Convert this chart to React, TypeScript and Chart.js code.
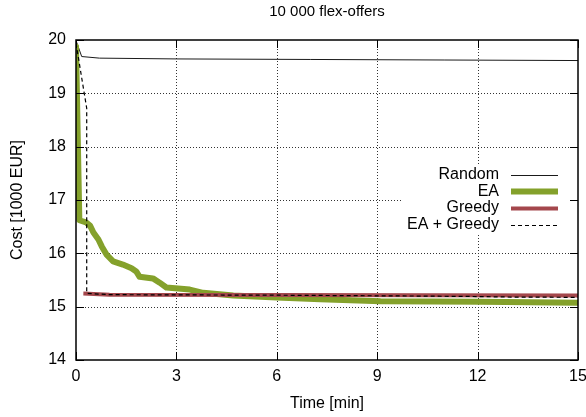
import React, { useEffect, useRef } from 'react';
import { Chart, registerables } from 'chart.js';

Chart.register(...registerables);

const FONT = "'Liberation Sans', Arial, Helvetica, sans-serif";

const chartTitle = '10 000 flex-offers';
const xAxisTitle = 'Time [min]';
const yAxisTitle = 'Cost [1000 EUR]';
const xTicks = [0, 3, 6, 9, 12, 15];
const yTicks = [14, 15, 16, 17, 18, 19, 20];

const seriesNames = ['Random', 'EA', 'Greedy', 'EA + Greedy'];
const seriesColors = ['#1a1a1a', '#84a12b', '#a4474c', '#000000'];

const randomTime = [0, 0.17, 0.7, 3, 7, 11, 15];
const randomCost = [19.99, 19.69, 19.66, 19.645, 19.635, 19.625, 19.615];

const eaTime = [0, 0.1, 0.3, 0.42, 0.52, 0.67, 0.77, 0.92, 1.11, 1.4, 1.66, 1.8, 1.9, 2.3, 2.5, 2.7, 3.4, 3.8, 4.7, 6.0, 7.3, 9.1, 12.1, 15];
const eaCost = [19.88, 16.62, 16.58, 16.52, 16.39, 16.26, 16.13, 15.97, 15.85, 15.79, 15.72, 15.66, 15.56, 15.53, 15.45, 15.36, 15.32, 15.26, 15.21, 15.17, 15.14, 15.1, 15.09, 15.075];

const greedyTime = [0.22, 1, 6, 15];
const greedyCost = [15.245, 15.225, 15.22, 15.21];

const eaGreedyTime = [0, 0.32, 0.32, 1, 6, 10, 12, 13, 15];
const eaGreedyCost = [19.94, 18.72, 15.25, 15.225, 15.215, 15.2, 15.19, 15.18, 15.175];

const zip = (xs: number[], ys: number[]) => xs.map((x, i) => ({ x, y: ys[i] }));

const decorPlugin = {
  id: 'decor',
  beforeDatasetsDraw(chart: any) {
    const { ctx, chartArea: a, scales } = chart;
    const xs = scales.x;
    const ys = scales.y;
    ctx.save();
    ctx.strokeStyle = '#333';
    ctx.lineWidth = 1;
    ctx.setLineDash([1, 2]);
    xTicks.forEach((v) => {
      const px = Math.round(xs.getPixelForValue(v)) + 0.5;
      if (px <= a.left + 2 || px >= a.right - 2) return;
      ctx.beginPath();
      ctx.moveTo(px, a.top);
      ctx.lineTo(px, a.bottom);
      ctx.stroke();
    });
    yTicks.forEach((v) => {
      const py = Math.round(ys.getPixelForValue(v)) + 0.5;
      if (py <= a.top + 2 || py >= a.bottom - 2) return;
      ctx.beginPath();
      ctx.moveTo(a.left, py);
      ctx.lineTo(a.right, py);
      ctx.stroke();
    });
    ctx.restore();
  },
  afterDatasetsDraw(chart: any) {
    const { ctx, chartArea: a, scales } = chart;
    const xs = scales.x;
    const ys = scales.y;
    ctx.save();
    // legend
    const textRight = a.right - 79;
    const y0 = a.top + 134.5;
    const dy = 16.7;
    const dsets = chart.data.datasets;
    ctx.fillStyle = '#fff';
    ctx.fillRect(textRight - 96, y0 - 10, a.right - (textRight - 96) - 2, dy * (dsets.length - 1) + 20);
    ctx.font = `16px ${FONT}`;
    ctx.textAlign = 'right';
    ctx.textBaseline = 'middle';
    dsets.forEach((ds: any, i: number) => {
      const yy = y0 + i * dy;
      ctx.fillStyle = '#000';
      ctx.fillText(ds.label, textRight, yy);
      ctx.strokeStyle = ds.borderColor;
      ctx.lineWidth = ds.borderWidth;
      ctx.setLineDash(ds.borderDash || []);
      ctx.lineCap = 'butt';
      ctx.beginPath();
      ctx.moveTo(textRight + 12, Math.round(yy) + 0.5);
      ctx.lineTo(textRight + 59, Math.round(yy) + 0.5);
      ctx.stroke();
    });
    // frame
    ctx.setLineDash([]);
    ctx.strokeStyle = '#000';
    ctx.lineWidth = 1.5;
    ctx.strokeRect(a.left, a.top, a.right - a.left, a.bottom - a.top);
    ctx.lineWidth = 1;
    const tl = 8;
    xTicks.forEach((v) => {
      const px = Math.round(xs.getPixelForValue(v)) + 0.5;
      ctx.beginPath();
      ctx.moveTo(px, a.bottom);
      ctx.lineTo(px, a.bottom - tl);
      ctx.moveTo(px, a.top);
      ctx.lineTo(px, a.top + tl);
      ctx.stroke();
    });
    yTicks.forEach((v) => {
      const py = Math.round(ys.getPixelForValue(v)) + 0.5;
      ctx.beginPath();
      ctx.moveTo(a.left, py);
      ctx.lineTo(a.left + tl, py);
      ctx.moveTo(a.right, py);
      ctx.lineTo(a.right - tl, py);
      ctx.stroke();
    });
    ctx.restore();
  },
  afterDraw(chart: any) {
    const { ctx, chartArea: a } = chart;
    ctx.save();
    ctx.font = `15px ${FONT}`;
    ctx.fillStyle = '#000';
    ctx.textAlign = 'center';
    ctx.textBaseline = 'middle';
    ctx.fillText(chartTitle, (a.left + a.right) / 2, 12);
    ctx.restore();
  },
};

export default function App() {
  const ref = useRef<HTMLCanvasElement | null>(null);

  useEffect(() => {
    if (!ref.current) return;
    const tickFont = { family: FONT, size: 16 };
    const series = [
      { t: randomTime, c: randomCost, w: 1, dash: undefined as number[] | undefined },
      { t: eaTime, c: eaCost, w: 6, dash: undefined },
      { t: greedyTime, c: greedyCost, w: 4, dash: undefined },
      { t: eaGreedyTime, c: eaGreedyCost, w: 1.2, dash: [4, 3] },
    ];
    const chart = new Chart(ref.current, {
      type: 'line',
      data: {
        datasets: series.map((s, i) => ({
          label: seriesNames[i],
          data: zip(s.t, s.c),
          borderColor: seriesColors[i],
          borderWidth: s.w,
          borderDash: s.dash,
          borderJoinStyle: 'round',
          borderCapStyle: i === 1 ? 'round' : 'butt',
          pointRadius: 0,
          tension: 0,
          fill: false,
          order: series.length - i,
        })) as any,
      },
      options: {
        animation: false,
        responsive: false,
        devicePixelRatio: 1,
        layout: { padding: { top: 40, right: 8, left: 0, bottom: 0 } },
        plugins: {
          legend: { display: false },
          tooltip: { enabled: false },
          title: { display: false },
        },
        scales: {
          x: {
            type: 'linear',
            min: 0,
            max: 15,
            afterBuildTicks: (s: any) => {
              s.ticks = xTicks.map((v) => ({ value: v }));
            },
            ticks: { font: tickFont, color: '#000', padding: 7, maxRotation: 0, autoSkip: false },
            grid: { display: false, drawTicks: false },
            border: { display: false },
            title: { display: true, text: xAxisTitle, font: tickFont, color: '#000', padding: { top: 0, bottom: 4 } },
            afterFit: (s: any) => {
              s.height = 57;
              s.paddingLeft = 0;
              s.paddingRight = 0;
            },
          },
          y: {
            type: 'linear',
            min: 14,
            max: 20,
            afterBuildTicks: (s: any) => {
              s.ticks = yTicks.map((v) => ({ value: v }));
            },
            ticks: { font: tickFont, color: '#000', padding: 10 },
            grid: { display: false, drawTicks: false },
            border: { display: false },
            title: { display: true, text: yAxisTitle, font: tickFont, color: '#000', padding: { top: 8, bottom: 0 } },
            afterFit: (s: any) => {
              s.width = 76;
              s.paddingTop = 0;
              s.paddingBottom = 0;
            },
          },
        },
      } as any,
      plugins: [decorPlugin],
    });
    return () => chart.destroy();
  }, []);

  return (
    <div style={{ position: 'absolute', left: 0, top: 0, width: 586, height: 417, background: '#fff', overflow: 'hidden' }}>
      <canvas ref={ref} width={586} height={417} style={{ display: 'block' }} />
    </div>
  );
}
